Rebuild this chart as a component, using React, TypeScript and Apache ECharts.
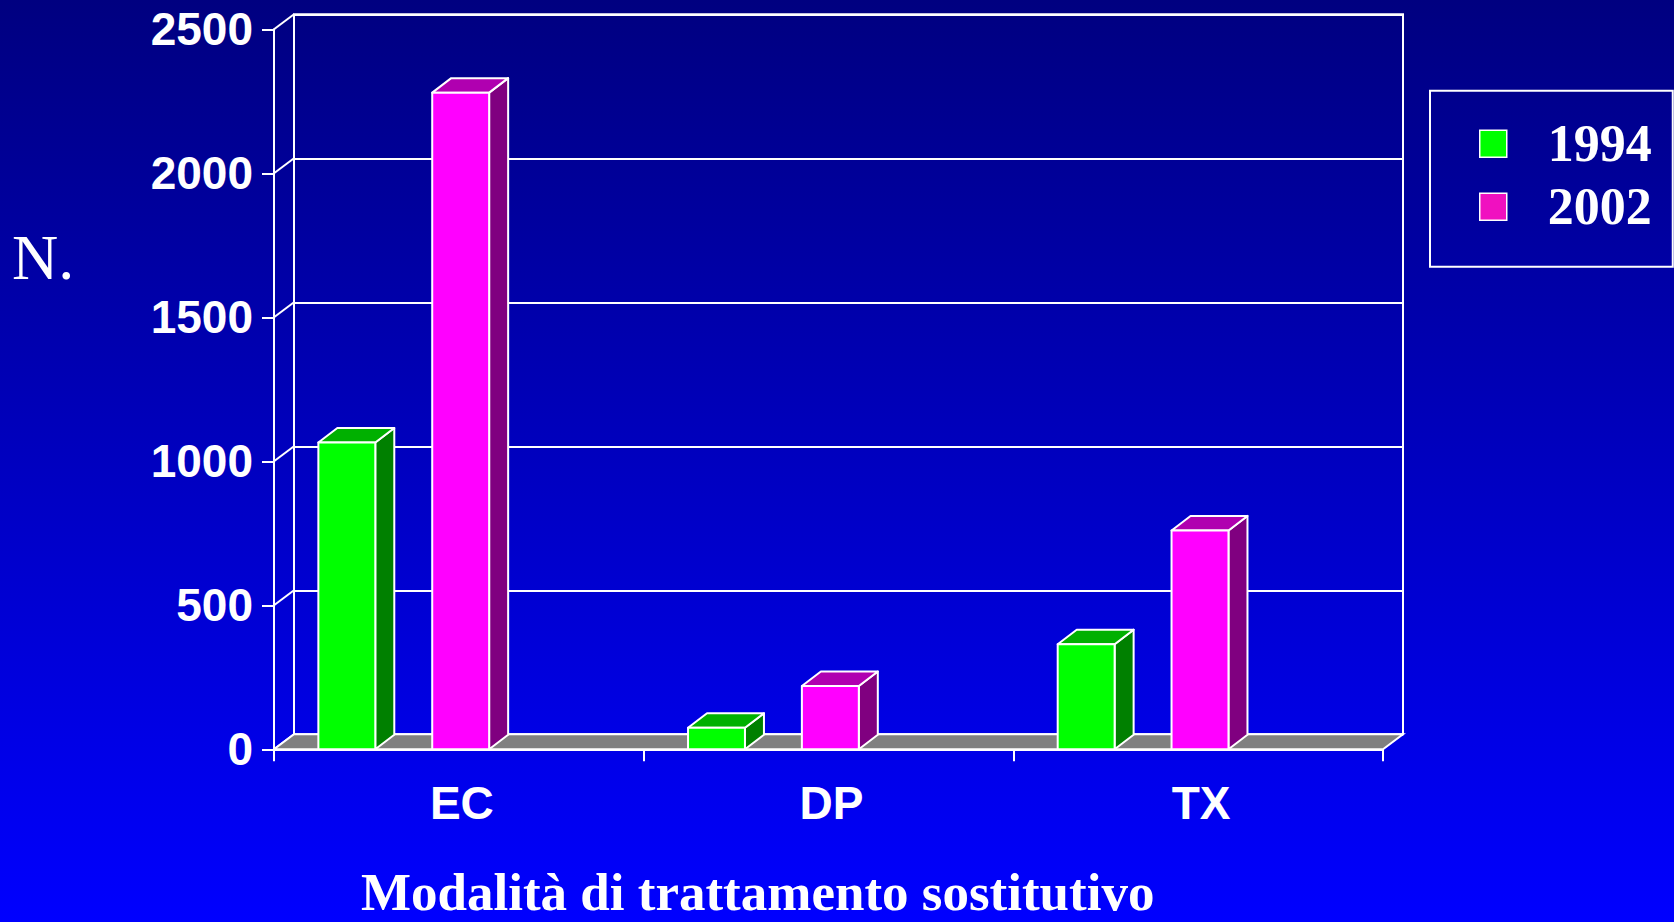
import React, { useEffect, useRef } from "react";
import * as echarts from "echarts";

const categories = ["EC", "DP", "TX"];
const years = ["1994", "2002"];
const values1994 = [1065, 75, 365];
const values2002 = [2280, 220, 760];
const yTicks = [0, 500, 1000, 1500, 2000, 2500];

const SANS = '"Liberation Sans", Arial, sans-serif';
const SERIF = '"Liberation Serif", "Times New Roman", serif';

// 3D depth of the chart box
const DX = 20;
const DY = 15;
const BAR_DX = 19;
const BAR_DY = 14.5;
const BAR_FRAC = 0.154;
const SERIES_OFFSETS = [-0.303, 0.005];

const FACE = [
  { front: "#00FF00", side: "#008000", top: "#00B000" },
  { front: "#FF00FF", side: "#800080", top: "#B000B0" },
];

function makeBarRenderer(s: number) {
  return (params: any, api: any) => {
    const idx = api.value(0);
    const val = api.value(1);
    const base = api.coord([idx, 0]);
    const top = api.coord([idx, val]);
    const band = api.size([1, 0])[0];
    const w = band * BAR_FRAC;
    const cx = base[0] + band * SERIES_OFFSETS[s];
    const x0 = cx - w / 2;
    const x1 = cx + w / 2;
    const yb = base[1];
    const yt = top[1];
    const stroke = { stroke: "#ffffff", lineWidth: 2, lineJoin: "round" };
    return {
      type: "group",
      children: [
        {
          type: "polygon",
          shape: {
            points: [
              [x1, yt],
              [x1 + BAR_DX, yt - BAR_DY],
              [x1 + BAR_DX, yb - BAR_DY],
              [x1, yb],
            ],
          },
          style: { fill: FACE[s].side, ...stroke },
        },
        {
          type: "polygon",
          shape: {
            points: [
              [x0, yt],
              [x0 + BAR_DX, yt - BAR_DY],
              [x1 + BAR_DX, yt - BAR_DY],
              [x1, yt],
            ],
          },
          style: { fill: FACE[s].top, ...stroke },
        },
        {
          type: "rect",
          shape: { x: x0, y: yt, width: w, height: yb - yt },
          style: { fill: FACE[s].front, ...stroke },
        },
      ],
    };
  };
}

export default function App() {
  const ref = useRef<HTMLDivElement>(null);

  useEffect(() => {
    if (!ref.current) return;
    const chart = echarts.init(ref.current, undefined, { renderer: "svg" });

    const gridA = { left: 274, top: 29.3, width: 1109, height: 720 };
    const gridB = { left: 274 + DX, top: 29.3 - DY, width: 1109, height: 720 };

    const option: any = {
      animation: false,
      backgroundColor: {
        type: "linear",
        x: 0,
        y: 0,
        x2: 0,
        y2: 1,
        colorStops: [
          { offset: 0, color: "#000080" },
          { offset: 1, color: "#0000FF" },
        ],
      },
      grid: [
        { ...gridA, show: false },
        {
          ...gridB,
          show: true,
          borderColor: "#ffffff",
          borderWidth: 2,
          backgroundColor: "transparent",
        },
      ],
      xAxis: [
        {
          type: "category",
          gridIndex: 0,
          data: categories,
          boundaryGap: true,
          axisLine: { show: true, lineStyle: { color: "#ffffff", width: 2 } },
          axisTick: {
            show: true,
            alignWithLabel: false,
            length: 12,
            lineStyle: { color: "#ffffff", width: 2 },
          },
          axisLabel: {
            color: "#ffffff",
            fontFamily: SANS,
            fontWeight: "bold",
            fontSize: 46,
            margin: 31,
            padding: [0, 0, 0, 6],
          },
          splitLine: { show: false },
        },
        {
          type: "category",
          gridIndex: 1,
          data: categories,
          show: false,
        },
      ],
      yAxis: [
        {
          type: "value",
          gridIndex: 0,
          min: 0,
          max: 2500,
          interval: 500,
          axisLine: { show: true, lineStyle: { color: "#ffffff", width: 2 } },
          axisTick: {
            show: true,
            length: 12,
            lineStyle: { color: "#ffffff", width: 2 },
          },
          axisLabel: {
            color: "#ffffff",
            fontFamily: SANS,
            fontWeight: "bold",
            fontSize: 46,
            margin: 21,
            formatter: (v: number) => String(v),
          },
          splitLine: { show: false },
        },
        {
          type: "value",
          gridIndex: 1,
          min: 0,
          max: 2500,
          interval: 500,
          axisLine: { show: false },
          axisTick: { show: false },
          axisLabel: { show: false },
          splitLine: { show: true, lineStyle: { color: "#ffffff", width: 2 } },
        },
      ],
      legend: {
        orient: "vertical",
        left: 1430,
        top: 90.7,
        padding: [27, 21, 34, 49],
        itemGap: 11,
        itemWidth: 27,
        itemHeight: 27,
        icon: "rect",
        selectedMode: false,
        borderColor: "#ffffff",
        borderWidth: 2,
        itemStyle: { borderColor: "#ffffff", borderWidth: 1.5 },
        textStyle: {
          color: "#ffffff",
          fontFamily: SERIF,
          fontWeight: "bold",
          fontSize: 52,
          lineHeight: 52,
          padding: [0, 0, 0, 36],
        },
        data: [
          { name: years[0], itemStyle: { color: "#00FF00" } },
          { name: years[1], itemStyle: { color: "#F010C0" } },
        ],
      },
      graphic: [
        {
          type: "text",
          left: 12,
          top: 225,
          style: {
            text: "N.",
            fill: "#ffffff",
            font: `normal 64px ${SERIF}`,
          },
        },
      ],
      title: {
        text: "Modalità di trattamento sostitutivo",
        left: 361,
        top: 871,
        padding: 0,
        textStyle: {
          color: "#ffffff",
          fontFamily: SERIF,
          fontWeight: "bold",
          fontSize: 53,
          lineHeight: 42,
        },
      },
      series: [
        {
          type: "custom",
          name: "wall",
          xAxisIndex: 0,
          yAxisIndex: 0,
          silent: true,
          z: 2,
          data: yTicks.map((v) => [0, v]),
          encode: { x: 0, y: 1 },
          renderItem: (params: any, api: any) => {
            const cs = params.coordSys;
            const p = api.coord([0, api.value(1)]);
            return {
              type: "line",
              shape: { x1: cs.x, y1: p[1], x2: cs.x + DX, y2: p[1] - DY },
              style: { stroke: "#ffffff", lineWidth: 2 },
            };
          },
        },
        {
          type: "custom",
          name: "floor",
          xAxisIndex: 0,
          yAxisIndex: 0,
          silent: true,
          z: 2,
          data: [[0, 0]],
          encode: { x: 0, y: 1 },
          renderItem: (params: any, api: any) => {
            const cs = params.coordSys;
            const y = api.coord([0, 0])[1];
            return {
              type: "polygon",
              shape: {
                points: [
                  [cs.x, y],
                  [cs.x + cs.width, y],
                  [cs.x + cs.width + DX, y - DY],
                  [cs.x + DX, y - DY],
                ],
              },
              style: { fill: "#808080", stroke: "#ffffff", lineWidth: 2 },
            };
          },
        },
        {
          type: "custom",
          name: years[0],
          xAxisIndex: 0,
          yAxisIndex: 0,
          z: 3,
          itemStyle: { color: "#00FF00" },
          data: values1994.map((v, i) => [i, v]),
          encode: { x: 0, y: 1 },
          renderItem: makeBarRenderer(0),
        },
        {
          type: "custom",
          name: years[1],
          xAxisIndex: 0,
          yAxisIndex: 0,
          z: 3,
          itemStyle: { color: "#FF00FF" },
          data: values2002.map((v, i) => [i, v]),
          encode: { x: 0, y: 1 },
          renderItem: makeBarRenderer(1),
        },
      ],
    };

    chart.setOption(option);
    return () => chart.dispose();
  }, []);

  return (
    <div
      ref={ref}
      style={{ position: "fixed", left: 0, top: 0, width: 1674, height: 922 }}
    />
  );
}
